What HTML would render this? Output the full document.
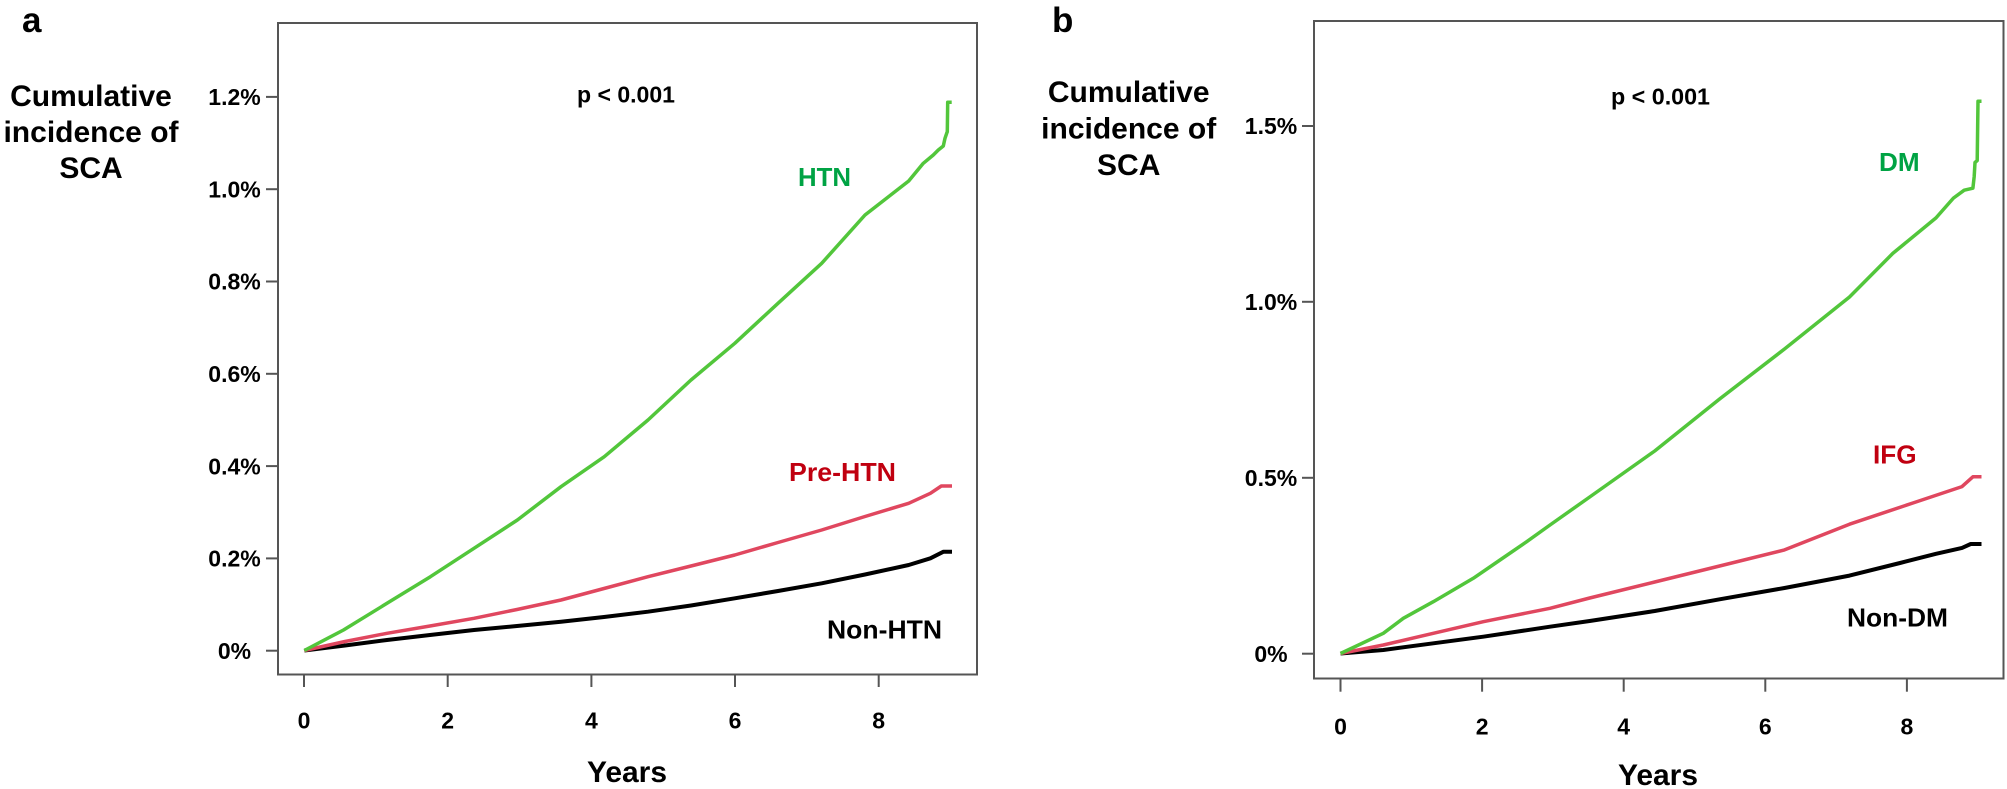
<!DOCTYPE html>
<html>
<head>
<meta charset="utf-8">
<style>
  html,body{margin:0;padding:0;background:#fff;}
  svg{display:block;}
  text{font-family:"Liberation Sans",Arial,sans-serif;font-weight:bold;}
</style>
</head>
<body>
<svg width="2007" height="789" viewBox="0 0 2007 789" xmlns="http://www.w3.org/2000/svg">
  <rect x="0" y="0" width="2007" height="789" fill="#fff"/>

  <!-- ================= PANEL A ================= -->
  <text x="22" y="32" font-size="35" fill="#000">a</text>
  <g font-size="30" fill="#000" text-anchor="middle">
    <text x="91" y="106">Cumulative</text>
    <text x="91" y="142">incidence of</text>
    <text x="91" y="178">SCA</text>
  </g>

  <!-- box -->
  <rect x="278" y="23" width="699" height="651.5" fill="none" stroke="#555" stroke-width="2"/>

  <!-- y ticks -->
  <g stroke="#555" stroke-width="2">
    <line x1="266" y1="650.7" x2="278" y2="650.7"/>
    <line x1="266" y1="558.4" x2="278" y2="558.4"/>
    <line x1="266" y1="466.1" x2="278" y2="466.1"/>
    <line x1="266" y1="373.8" x2="278" y2="373.8"/>
    <line x1="266" y1="281.5" x2="278" y2="281.5"/>
    <line x1="266" y1="189.2" x2="278" y2="189.2"/>
    <line x1="266" y1="96.9" x2="278" y2="96.9"/>
  </g>
  <g font-size="23" fill="#000" text-anchor="middle">
    <text x="234.5" y="659">0%</text>
    <text x="234.5" y="566.6">0.2%</text>
    <text x="234.5" y="474.3">0.4%</text>
    <text x="234.5" y="382">0.6%</text>
    <text x="234.5" y="289.7">0.8%</text>
    <text x="234.5" y="197.4">1.0%</text>
    <text x="234.5" y="105.1">1.2%</text>
  </g>

  <!-- x ticks -->
  <g stroke="#555" stroke-width="2">
    <line x1="304" y1="675" x2="304" y2="687"/>
    <line x1="447.7" y1="675" x2="447.7" y2="687"/>
    <line x1="591.4" y1="675" x2="591.4" y2="687"/>
    <line x1="735" y1="675" x2="735" y2="687"/>
    <line x1="878.7" y1="675" x2="878.7" y2="687"/>
  </g>
  <g font-size="23" fill="#000" text-anchor="middle">
    <text x="304" y="728.5">0</text>
    <text x="447.7" y="728.5">2</text>
    <text x="591.4" y="728.5">4</text>
    <text x="735" y="728.5">6</text>
    <text x="878.7" y="728.5">8</text>
  </g>
  <text x="627" y="782" font-size="30" fill="#000" text-anchor="middle" textLength="80" lengthAdjust="spacingAndGlyphs">Years</text>

  <text x="577" y="102.7" font-size="23" fill="#000" textLength="98" lengthAdjust="spacingAndGlyphs">p &lt; 0.001</text>

  <!-- curves A -->
  <polyline fill="none" stroke="#000" stroke-width="4" stroke-linejoin="round"
    points="304.3,650.5 345,645.5 387,640 430,635 474,630 517,626 561,621.7 604,617 648,611.7 691,605.5 734.8,598.3 778,591 821.7,583.3 865,574.5 908.7,565 930.4,558.3 943.5,551.7 952,551.7"/>
  <polyline fill="none" stroke="#e0475f" stroke-width="3.5" stroke-linejoin="round"
    points="304.3,650.5 345,641.5 387,633.3 430,626 474,618.3 517,609.5 561,600 604,588.5 648,576.7 691,566 734.8,555 778,542.5 821.7,530 865,516.5 908.7,503.3 930.4,493.3 941.3,486 952,486"/>
  <polyline fill="none" stroke="#52c63b" stroke-width="3.5" stroke-linejoin="round"
    points="304.3,650.5 343.5,630 387,603.3 430.4,576.7 474,548.3 517.4,520 561,486.7 604.3,456.7 648,420 691,380 734.8,343.3 778,303.3 821.7,263.3 865,215 908.7,181 923.3,163.3 933.3,155 938.3,150 943.3,146 945,138.3 946.7,133.3 947.3,131.7 947.7,102.3 951.7,102.3"/>

  <text x="798" y="186" font-size="26" fill="#00a344" textLength="53" lengthAdjust="spacingAndGlyphs">HTN</text>
  <text x="789" y="481" font-size="26" fill="#c00010" textLength="107" lengthAdjust="spacingAndGlyphs">Pre-HTN</text>
  <text x="827" y="638.3" font-size="26" fill="#000" textLength="115" lengthAdjust="spacingAndGlyphs">Non-HTN</text>

  <!-- ================= PANEL B ================= -->
  <text x="1052" y="32" font-size="35" fill="#000">b</text>
  <g font-size="30" fill="#000" text-anchor="middle">
    <text x="1128.7" y="102">Cumulative</text>
    <text x="1128.7" y="138.3">incidence of</text>
    <text x="1128.7" y="175">SCA</text>
  </g>

  <rect x="1314" y="21" width="689.5" height="657.5" fill="none" stroke="#555" stroke-width="2"/>

  <g stroke="#555" stroke-width="2">
    <line x1="1302" y1="653.7" x2="1314" y2="653.7"/>
    <line x1="1302" y1="477.8" x2="1314" y2="477.8"/>
    <line x1="1302" y1="301.8" x2="1314" y2="301.8"/>
    <line x1="1302" y1="126" x2="1314" y2="126"/>
  </g>
  <g font-size="23" fill="#000" text-anchor="middle">
    <text x="1271" y="662">0%</text>
    <text x="1271" y="486">0.5%</text>
    <text x="1271" y="310">1.0%</text>
    <text x="1271" y="134.2">1.5%</text>
  </g>

  <g stroke="#555" stroke-width="2">
    <line x1="1340.5" y1="679" x2="1340.5" y2="691.7"/>
    <line x1="1482.1" y1="679" x2="1482.1" y2="691.7"/>
    <line x1="1623.7" y1="679" x2="1623.7" y2="691.7"/>
    <line x1="1765.3" y1="679" x2="1765.3" y2="691.7"/>
    <line x1="1906.9" y1="679" x2="1906.9" y2="691.7"/>
  </g>
  <g font-size="23" fill="#000" text-anchor="middle">
    <text x="1340.5" y="734.5">0</text>
    <text x="1482.1" y="734.5">2</text>
    <text x="1623.7" y="734.5">4</text>
    <text x="1765.3" y="734.5">6</text>
    <text x="1906.9" y="734.5">8</text>
  </g>
  <text x="1658" y="785" font-size="30" fill="#000" text-anchor="middle" textLength="80" lengthAdjust="spacingAndGlyphs">Years</text>

  <text x="1611" y="104.5" font-size="23" fill="#000" textLength="99" lengthAdjust="spacingAndGlyphs">p &lt; 0.001</text>

  <!-- curves B -->
  <polyline fill="none" stroke="#000" stroke-width="4" stroke-linejoin="round"
    points="1340.5,653.5 1383.3,650 1433.3,643.3 1483.3,636.7 1550,626.7 1589.7,621 1654.7,611 1719.6,599.3 1784.5,588 1849.5,575.6 1900,563 1936,553.8 1962,547.9 1970.7,544 1981.5,544"/>
  <polyline fill="none" stroke="#e0475f" stroke-width="3.5" stroke-linejoin="round"
    points="1340.5,653.5 1383.3,645 1433.3,633.3 1483.3,621.7 1550,608.3 1589.7,598 1654.7,582 1719.6,566 1784.5,549.9 1849.5,524.2 1914.4,502.5 1962,486.6 1972.9,476.8 1981.5,476.8"/>
  <polyline fill="none" stroke="#52c63b" stroke-width="3.5" stroke-linejoin="round"
    points="1340.5,653.5 1383.3,633.3 1403.3,618.3 1433.3,601.7 1473.3,578.3 1500,560 1526.7,541.7 1550,525 1589.7,497 1654.7,451 1719.6,399 1784.5,349 1849.5,297 1892.8,253.4 1936,217.9 1953.4,198.1 1964.2,190.2 1972.9,188.2 1974.2,176.4 1975,162.5 1977.2,160.6 1978,101.3 1981.5,101.3"/>

  <text x="1879" y="171.2" font-size="26" fill="#00a344" textLength="40.6" lengthAdjust="spacingAndGlyphs">DM</text>
  <text x="1873" y="463.7" font-size="26" fill="#c00010" textLength="43.6" lengthAdjust="spacingAndGlyphs">IFG</text>
  <text x="1847" y="626.7" font-size="26" fill="#000" textLength="101" lengthAdjust="spacingAndGlyphs">Non-DM</text>
</svg>
</body>
</html>
